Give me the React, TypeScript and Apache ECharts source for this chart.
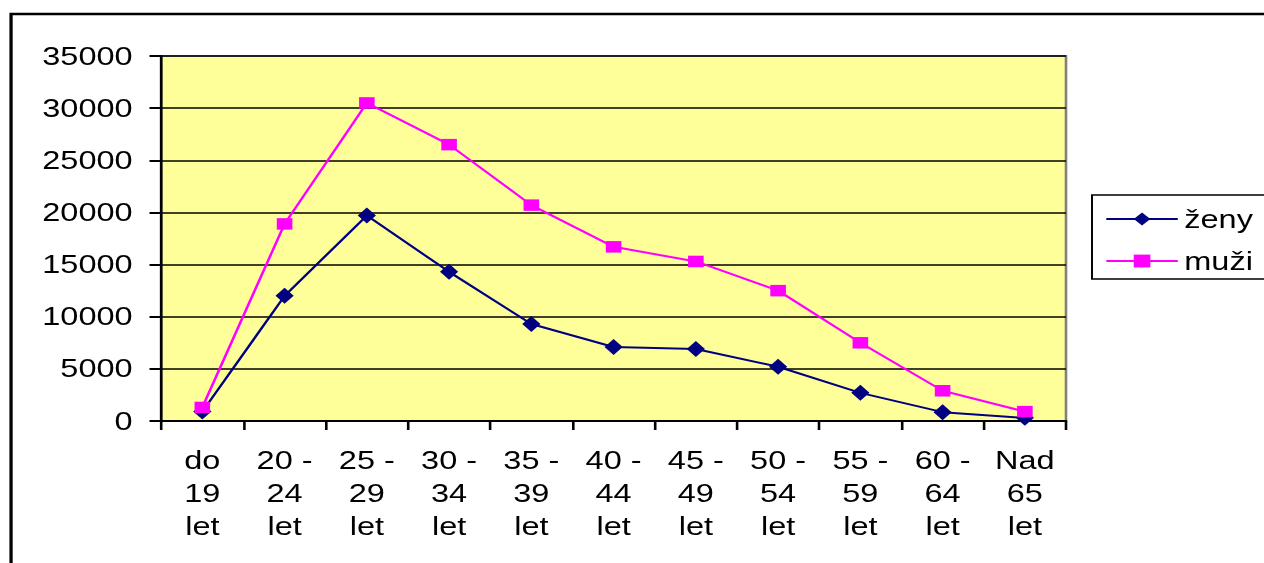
import React, { useEffect, useRef } from "react";
import * as echarts from "echarts";

const categories = [
  "do\n19\nlet",
  "20 -\n24\nlet",
  "25 -\n29\nlet",
  "30 -\n34\nlet",
  "35 -\n39\nlet",
  "40 -\n44\nlet",
  "45 -\n49\nlet",
  "50 -\n54\nlet",
  "55 -\n59\nlet",
  "60 -\n64\nlet",
  "Nad\n65\nlet",
];
const zeny = [900, 12000, 19700, 14300, 9300, 7100, 6900, 5200, 2700, 850, 300];
const muzi = [1300, 18900, 30500, 26500, 20700, 16700, 15300, 12500, 7500, 2900, 900];
const seriesNames = ["ženy", "muži"];
const yMin = 0;
const yMax = 35000;
const yStep = 5000;

const SX = 1.3; // horizontal stretch of the reference picture
const W = 973;
const H = 563;
const FONT = "'Liberation Sans', Arial, sans-serif";

export default function App() {
  const ref = useRef<HTMLDivElement>(null);
  useEffect(() => {
    if (!ref.current) return;
    const chart = echarts.init(ref.current, null, { renderer: "svg" });
    chart.setOption({
      animation: false,
      textStyle: { fontFamily: FONT, color: "#000" },
      graphic: [
        {
          type: "rect",
          shape: { x: 8.5, y: 14, width: 1200, height: 700 },
          style: { fill: "none", stroke: "#000", lineWidth: 2.5 },
          z: 100,
          silent: true,
        },
      ],
      grid: {
        left: 124,
        right: W - 820,
        top: 56,
        bottom: H - 421,
        show: true,
        backgroundColor: "#FFFF99",
        borderColor: "#808080",
        borderWidth: 2,
      },
      legend: {
        orient: "vertical",
        left: 840,
        top: 195,
        padding: [9, 10, 3, 10],
        itemGap: 12,
        itemWidth: 55,
        itemHeight: 16,
        borderColor: "#000",
        borderWidth: 1.5,
        backgroundColor: "#fff",
        textStyle: { fontSize: 25, lineHeight: 30, color: "#000", fontFamily: FONT },
        data: seriesNames,
      },
      xAxis: {
        type: "category",
        data: categories,
        boundaryGap: true,
        axisLine: { lineStyle: { color: "#000", width: 2 } },
        axisTick: { show: true, length: 9, lineStyle: { color: "#000", width: 2 } },
        axisLabel: {
          interval: 0,
          fontSize: 25,
          lineHeight: 33,
          margin: 23,
          color: "#000",
          fontFamily: FONT,
          align: "center",
        },
      },
      yAxis: {
        type: "value",
        min: yMin,
        max: yMax,
        interval: yStep,
        axisLine: { show: true, lineStyle: { color: "#000", width: 2 } },
        axisTick: { show: true, length: 9, lineStyle: { color: "#000", width: 2 } },
        axisLabel: {
          fontSize: 25,
          margin: 22,
          color: "#000",
          fontFamily: FONT,
          formatter: (v: number) => String(v),
        },
        splitLine: { show: true, lineStyle: { color: "#000", width: 1.5 } },
      },
      series: [
        {
          name: seriesNames[0],
          type: "line",
          data: zeny,
          symbol: "diamond",
          symbolSize: [14, 16],
          lineStyle: { color: "#000080", width: 2 },
          itemStyle: { color: "#000080" },
          z: 3,
        },
        {
          name: seriesNames[1],
          type: "line",
          data: muzi,
          symbol: "rect",
          symbolSize: [12, 11.5],
          lineStyle: { color: "#FF00FF", width: 2 },
          itemStyle: { color: "#FF00FF" },
          z: 4,
        },
      ],
    });
    return () => chart.dispose();
  }, []);
  return (
    <div
      ref={ref}
      style={{
        position: "fixed",
        left: 0,
        top: 0,
        width: W,
        height: H,
        transform: `scaleX(${SX})`,
        transformOrigin: "0 0",
      }}
    />
  );
}
